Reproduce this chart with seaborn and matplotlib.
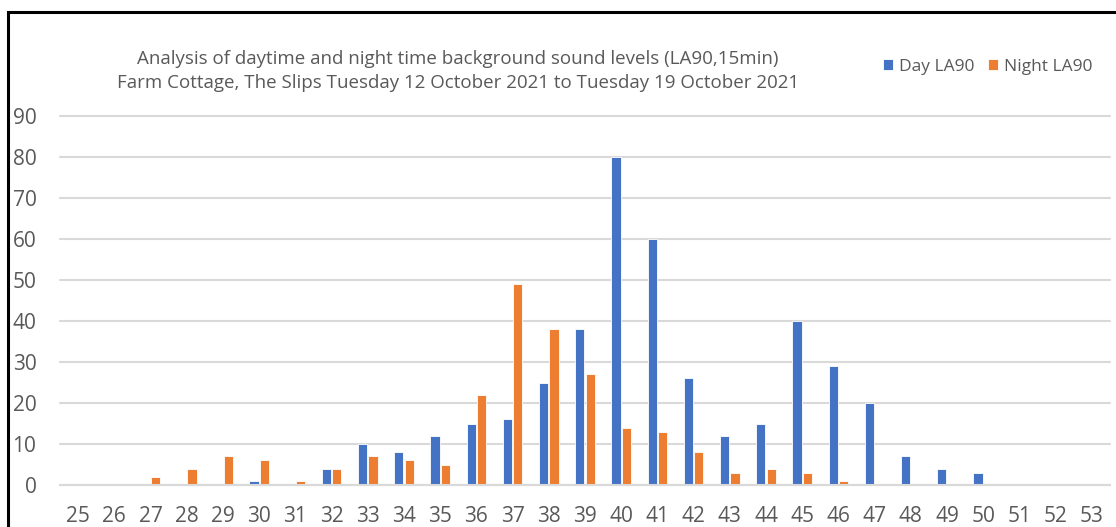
import matplotlib
matplotlib.use("Agg")
import matplotlib.pyplot as plt
import seaborn as sns
import pandas as pd
from matplotlib.patches import Rectangle

# sound level bins (dB LA90) and counts of 15-min periods
levels = list(range(25, 54))
day_counts = [0, 0, 0, 0, 0, 1, 0, 4, 10, 8, 12, 15, 16, 25, 38, 80, 60, 26, 12, 15,
              40, 29, 20, 7, 4, 3, 0, 0, 0]
night_counts = [0, 0, 2, 4, 7, 6, 1, 4, 7, 6, 5, 22, 49, 38, 27, 14, 13, 8, 3, 4,
                3, 1, 0, 0, 0, 0, 0, 0, 0]
series_names = ["Day LA90", "Night LA90"]
title_lines = ["Analysis of daytime and night time background sound levels (LA90,15min)",
               "Farm Cottage, The Slips Tuesday 12 October 2021 to Tuesday 19 October 2021"]

df = pd.DataFrame({
    "level": [str(v) for v in levels] * 2,
    "count": day_counts + night_counts,
    "series": [series_names[0]] * len(levels) + [series_names[1]] * len(levels),
})

sns.set_theme(style="white")
plt.rcParams["font.family"] = ["Open Sans", "DejaVu Sans"]

fig = plt.figure(figsize=(11.16, 5.27), dpi=100)
ax = fig.add_axes([60 / 1116, 42 / 527, (1110 - 60) / 1116, (485 - 116) / 527])

sns.barplot(data=df, x="level", y="count", hue="series",
            palette=["#4472C4", "#ED7D31"], saturation=1, width=0.58, gap=0.12,
            edgecolor="white", linewidth=0.6, ax=ax, legend=True)

ax.set_ylim(0, 90)
ax.set_xlim(-0.5, len(levels) - 0.5)
ax.set_yticks(range(0, 91, 10))
ax.yaxis.grid(True, color="#D9D9D9", linewidth=1.5)
ax.set_axisbelow(True)
for sp in ["top", "right", "left"]:
    ax.spines[sp].set_visible(False)
ax.spines["bottom"].set_color("#D9D9D9")
ax.spines["bottom"].set_linewidth(1.5)
for gl in ax.get_ygridlines():
    gl.set_clip_on(False)
ax.tick_params(axis="both", length=0, labelsize=15, colors="#595959")
ax.tick_params(axis="x", pad=15)
ax.tick_params(axis="y", pad=17)
ax.set_xlabel("")
ax.set_ylabel("")

fig.text(458 / 1116, 1 - 59 / 527, title_lines[0], ha="center", va="center",
         fontsize=13.5, color="#595959")
fig.text(458 / 1116, 1 - 83 / 527, title_lines[1], ha="center", va="center",
         fontsize=13.5, color="#595959")

leg = ax.legend(loc="center left", bbox_to_anchor=(883 / 1116, 1 - 67 / 527),
                bbox_transform=fig.transFigure, ncol=2, frameon=False,
                borderpad=0, borderaxespad=0,
                handlelength=0.6, handleheight=0.6, handletextpad=0.3,
                columnspacing=0.8, fontsize=12.5)
for t in leg.get_texts():
    t.set_color("#595959")

# outer frame (left and top edges visible in the crop)
fig.add_artist(Rectangle((8 / 1116, -0.1), 2.0, 1.1 - 12 / 527, transform=fig.transFigure,
                         fill=False, edgecolor="black", linewidth=2.2))

fig.savefig("out.png", dpi=100)
